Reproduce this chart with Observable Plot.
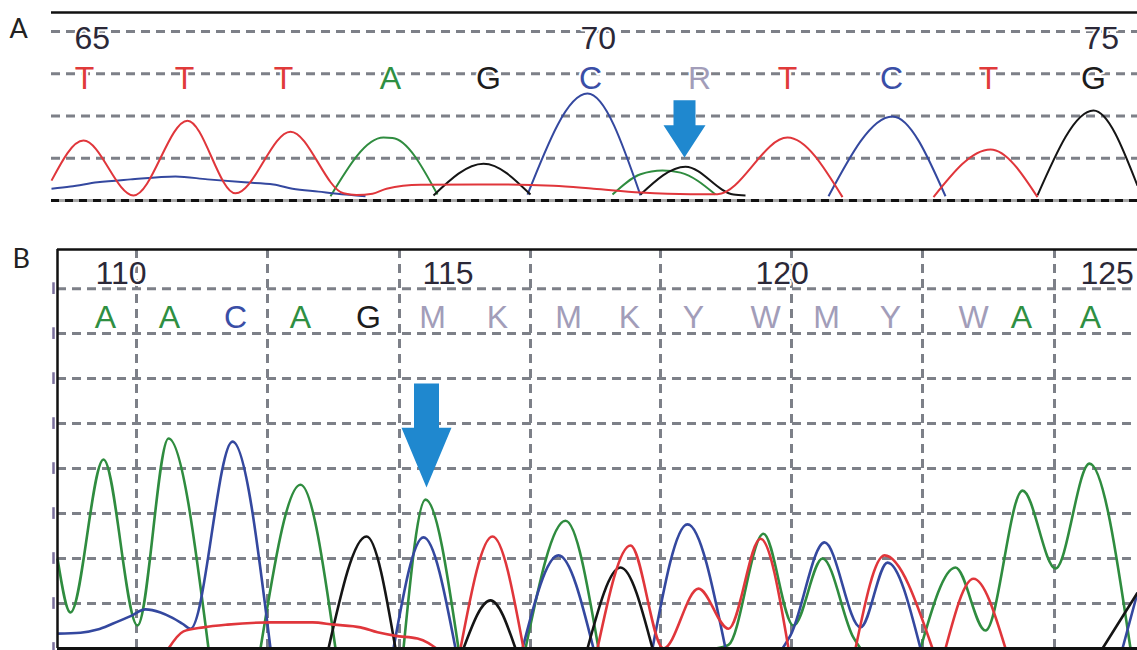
<!DOCTYPE html>
<html><head><meta charset="utf-8">
<script src="https://cdn.jsdelivr.net/npm/d3@7"></script>
<script src="https://cdn.jsdelivr.net/npm/@observablehq/plot@0.6"></script>
<style>
html,body{margin:0;padding:0;background:#fff;}
#chart{width:1137px;height:650px;position:relative;overflow:hidden;background:#fff}
#chart svg{display:block}
</style></head><body><div id="chart"></div>
<script>
// ---------- Panel A (scan position, signal intensity) ----------
const basesA    = ["T","T","T","A","G","C","R","T","C","T","G"];
const basePosA  = [84,184,283,390,488,590,699,787,891,988,1093];
const numbersA  = [65,70,75];
const numberIdxA = [0,5,10];
const gridYA    = [100,200,300,400];

const redA   = [[51,47],[83,142],[133,12],[187,189],[235,17],[290,163],[343,17],[356,13],[372,16],[386,28],[420,37],[500,38],[553,35],[593,28],[640,19],[690,15],[717,15],[787,149],[842,8],null,[933,8],[990,121],[1037,8]];
const blueA  = [[51,28],[70,33],[97,43],[130,50],[175,57],[207,50],[244,43],[273,38],[292,28],[318,21],[345,14],[365,10],null,[527,14],[587,253],[640,12],null,[828,10],[892,199],[945,10]];
const greenA = [[330,10],[383,149],[392,148],[437,14],null,[612,14],[640,62],[662,71],[680,66],[715,14]];
const blackA = [[433,12],[483,87],[530,14],null,[640,14],[685,80],[733,14],[745,12],null,[1037,12],[1093,213],[1137,35]];

// ---------- Panel B ----------
const basesB    = ["A","A","C","A","G","M","K","M","K","Y","W","M","Y","W","A","A"];
const basePosB  = [105,169,235,300,368,432,497,568,629,693,765,826,890,973,1021,1090];
const numbersB  = [110,115,120,125];
const numberIdxB = [0,5,10,15];
const gridYB    = [100,200,300,400,500,600,700,800];
const gridXB    = [136,267,399,530,660,791,922,1054];

const greenB = [[57,200],[70,80],[103,420],[137,51],[168,467],[208,0],null,[260,0],[300,364],[335,0],null,[403,0],[425,331],[458,0],null,[525,0],[565,284],[598,0],null,[715,0],[728,8],[763,255],[793,51],[822,200],[853,24],[860,0],null,[920,0],[955,180],[985,40],[1022,351],[1055,178],[1089,411],[1130,0]];
const blueB  = [[57,33],[80,35],[97,42],[112,55],[130,72],[145,87],[160,80],[172,68],[182,55],[190,44],[232,460],[270,0],null,[393,0],[423,247],[455,0],null,[522,0],[558,207],[593,0],null,[652,0],[687,276],[725,0],null,[782,0],[790,29],[824,236],[860,47],[887,191],[920,0],null,[1122,0],[1137,124]];
const redB   = [[168,0],[183,38],[203,47],[227,53],[270,58],[312,58],[333,53],[360,47],[377,36],[395,28],[417,22],[428,12],[436,0],null,[460,0],[492,249],[523,0],null,[597,0],[630,229],[663,0],[698,133],[728,44],[760,244],[788,0],null,[855,0],[884,207],[932,0],null,[945,0],[973,155],[1005,0]];
const blackB = [[328,0],[366,249],[395,0],null,[463,0],[490,107],[515,0],null,[587,0],[620,180],[652,0],null,[1102,0],[1137,124]];

// arrows (scan position of target, intensity levels)
const arrowA = {x:684, tip:102, headTop:178, shaftTop:237, headHalf:21, shaftHalf:11};
const arrowB = {x:426, tip:358, headTop:491, shaftTop:589, headHalf:25, shaftHalf:12.5};

// ---------- styles ----------
const COL = {red:"#e0363b", blue:"#34489f", green:"#2f8c3f", black:"#151515"};
const BASECOL = {A:"#2f8f42", C:"#3a4ea6", G:"#1c1c1c", T:"#e03a3a"};
const AMBIG = "#a29db9";
const GRID = "#7d8088";
const ARROW = "#1f88cf";
const FONT = "Liberation Sans, Arial, sans-serif";
const NUMCOL = "#2b2838";
const DASH = "9,6";

const X = d => d ? d[0] : undefined;
const Y = d => d ? d[1] : undefined;

function traces(list, w){
  return list.map(([pts,c]) => Plot.line(pts, {x:X, y:Y, stroke:c, strokeWidth:w, curve:"monotone-x", strokeLinejoin:"round", strokeLinecap:"butt"}));
}
function arrowPoly(a){
  return [[a.x-a.shaftHalf,a.shaftTop],[a.x+a.shaftHalf,a.shaftTop],[a.x+a.shaftHalf,a.headTop],[a.x+a.headHalf,a.headTop],[a.x,a.tip],[a.x-a.headHalf,a.headTop],[a.x-a.shaftHalf,a.headTop]];
}
function labels(bases, pos, nums, idx, yNum, yBase){
  return [
    Plot.text(bases, {x:(d,i)=>pos[i], y:yBase, text:d=>d, fill:d=>BASECOL[d]||AMBIG, fontSize:32, fontFamily:FONT, lineAnchor:"middle", stroke:"white", strokeWidth:4, paintOrder:"stroke"}),
    Plot.text(nums, {x:(d,i)=>pos[idx[i]], y:yNum, text:d=>String(d), fill:NUMCOL, fontSize:32, fontFamily:FONT, textAnchor:"start", dx:-10, lineAnchor:"middle", stroke:"white", strokeWidth:4, paintOrder:"stroke"})
  ];
}

const leftA = 51, leftB = 57, right = 1137;

const plotA = Plot.plot({
  width:1137, height:215, marginTop:12, marginBottom:15, marginLeft:0, marginRight:0,
  x:{domain:[0,1137], axis:null},
  y:{domain:[0,445], axis:null},
  color:{type:"identity"},
  marks:[
    Plot.ruleY(gridYA, {x1:leftA, x2:right, stroke:GRID, strokeWidth:3, strokeDasharray:DASH}),
    Plot.ruleY([0], {x1:leftA, x2:right, stroke:"#a6a6a6", strokeWidth:3}),
    Plot.ruleY([0], {x1:leftA, x2:right, stroke:"#111", strokeWidth:3, strokeDasharray:"8,6"}),
    Plot.ruleY([445], {x1:leftA, x2:right, stroke:"#111", strokeWidth:2.5}),
    ...labels(basesA, basePosA, numbersA, numberIdxA, 384, 289),
    ...traces([[greenA,COL.green],[blueA,COL.blue],[blackA,COL.black],[redA,COL.red]], 2),
    Plot.line(arrowPoly(arrowA), {x:X, y:Y, fill:ARROW, stroke:"none", curve:"linear-closed"}),
    Plot.text(["A"], {frameAnchor:"top-left", dx:9, dy:6, lineAnchor:"top", fontSize:27, fontFamily:"Lato, sans-serif", fill:"#222"})
  ]
});

const plotB = Plot.plot({
  width:1137, height:435, marginTop:34, marginBottom:2, marginLeft:0, marginRight:0,
  x:{domain:[0,1137], axis:null},
  y:{domain:[0,887], axis:null},
  color:{type:"identity"},
  marks:[
    Plot.ruleY(gridYB, {x1:leftB, x2:right, stroke:GRID, strokeWidth:3, strokeDasharray:DASH}),
    Plot.ruleX(gridXB, {y1:0, y2:887, stroke:GRID, strokeWidth:3, strokeDasharray:DASH}),
    Plot.ruleX([0,...gridYB], {x:53, y1:d=>d-13, y2:d=>d+13, stroke:"#7a6f9c", strokeWidth:2.5}),
    ...labels(basesB, basePosB, numbersB, numberIdxB, 834, 736),
    ...traces([[greenB,COL.green],[blueB,COL.blue],[blackB,COL.black],[redB,COL.red]], 2.6),
    Plot.ruleY([887], {x1:leftB, x2:right, stroke:"#111", strokeWidth:2.5}),
    Plot.ruleY([0], {x1:leftB, x2:right, stroke:"#111", strokeWidth:3}),
    Plot.ruleX([leftB], {y1:0, y2:887, stroke:"#111", strokeWidth:2.5}),
    Plot.line(arrowPoly(arrowB), {x:X, y:Y, fill:ARROW, stroke:"none", curve:"linear-closed"}),
    Plot.text(["B"], {frameAnchor:"top-left", dx:12, dy:-1, lineAnchor:"top", fontSize:27, fontFamily:"Lato, sans-serif", fill:"#222"})
  ]
});

const root = document.getElementById("chart");
root.appendChild(plotA);
root.appendChild(plotB);
</script>
</body></html>
